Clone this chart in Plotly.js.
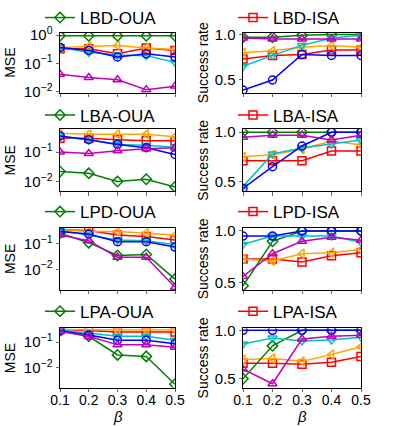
<!DOCTYPE html>
<html>
<head>
<meta charset="utf-8">
<script src="https://cdn.plot.ly/plotly-3.0.1.min.js"></script>
<style>html,body{margin:0;padding:0;background:#fff}#chart{width:399px;height:426px}</style>
</head>
<body>
<div id="chart"></div>
<script>
// beta values on the x axis
const beta = [0.1, 0.2, 0.3, 0.4, 0.5];
const rowNames = ['LBD', 'LBA', 'LPD', 'LPA'];

// every panel: [green, blue, magenta, orange, cyan, red]
const mseLBD = [
  [0.95, 0.95, 0.95, 0.95, 0.95],
  [0.37, 0.29, 0.17, 0.22, 0.17],
  [0.042, 0.032, 0.027, 0.012, 0.016],
  [0.37, 0.41, 0.43, 0.35, 0.31],
  [0.37, 0.25, 0.20, 0.19, 0.11],
  [0.33, 0.33, 0.22, 0.35, 0.29],
];
const successLBD = [
  [0.97, 0.97, 0.99, 1.0, 1.0],
  [0.39, 0.50, 0.78, 0.77, 0.77],
  [0.96, 0.95, 0.95, 0.95, 0.95],
  [0.80, 0.82, 0.86, 0.88, 0.86],
  [0.65, 0.77, 0.88, 0.96, 0.99],
  [0.73, 0.77, 0.78, 0.83, 0.83],
];
const mseLBA = [
  [0.022, 0.019, 0.010, 0.012, 0.0066],
  [0.35, 0.26, 0.18, 0.14, 0.083],
  [0.10, 0.089, 0.11, 0.13, 0.14],
  [0.43, 0.40, 0.40, 0.40, 0.33],
  [0.33, 0.26, 0.18, 0.17, 0.145],
  [0.29, 0.29, 0.26, 0.24, 0.24],
];
const successLBA = [
  [1.0, 1.0, 1.0, 1.0, 1.0],
  [0.43, 0.65, 0.86, 1.0, 1.0],
  [0.95, 0.97, 0.97, 0.92, 0.97],
  [0.75, 0.77, 0.83, 0.91, 0.87],
  [0.45, 0.78, 0.84, 0.88, 0.92],
  [0.71, 0.71, 0.71, 0.81, 0.81],
];
const mseLPD = [
  [0.26, 0.11, 0.035, 0.038, 0.0042],
  [0.30, 0.24, 0.12, 0.12, 0.074],
  [0.22, 0.13, 0.030, 0.030, 0.002],
  [0.35, 0.30, 0.30, 0.26, 0.22],
  [0.33, 0.22, 0.14, 0.13, 0.092],
  [0.35, 0.33, 0.22, 0.19, 0.14],
];
const successLPD = [
  [0.47, 0.90, 1.0, 1.0, 1.0],
  [0.95, 0.95, 1.0, 1.0, 1.0],
  [0.56, 0.78, 0.90, 0.94, 0.91],
  [0.73, 0.71, 0.78, 0.79, 0.82],
  [0.87, 0.95, 0.95, 0.95, 0.89],
  [0.73, 0.73, 0.70, 0.76, 0.79],
];
const mseLPA = [
  [0.28, 0.17, 0.032, 0.028, 0.0023],
  [0.28, 0.19, 0.12, 0.12, 0.087],
  [0.26, 0.17, 0.079, 0.079, 0.064],
  [0.32, 0.30, 0.30, 0.30, 0.30],
  [0.30, 0.22, 0.17, 0.17, 0.12],
  [0.32, 0.28, 0.25, 0.25, 0.25],
];
const successLPA = [
  [0.50, 0.84, 1.0, 1.0, 1.0],
  [1.0, 1.0, 1.0, 1.0, 1.0],
  [0.60, 0.45, 0.91, 0.94, 0.95],
  [0.70, 0.71, 0.68, 0.75, 0.83],
  [0.86, 0.92, 0.89, 0.90, 0.93],
  [0.66, 0.66, 0.65, 0.67, 0.73],
];

const mse = [mseLBD, mseLBA, mseLPD, mseLPA];
const success = [successLBD, successLBA, successLPD, successLPA];

// series style
const kolory = ['#008000', '#0000ff', '#bf00bf', '#ffa500', '#00bfbf', '#ff0000'];
const symbole = ['diamond-open', 'circle-open', 'triangle-up-open', 'triangle-left-open', 'triangle-down-open', 'square-open'];
const kolejnosc = [5, 3, 0, 4, 1, 2]; // draw order

// geometry (pixels in a 399x426 figure)
const W = 399, H = 426;
const kolX = [[60, 175], [243, 361]];
const wierszY = [[27, 88], [125, 188], [225, 288], [327, 387]];
const legendaY = [12, 111, 209, 310];
const legendaX = [40, 233];
const zakresMse = [[-2.03, 0.09], [-2.33, -0.23], [-2.8, -0.38], [-2.77, -0.46]];
const zakresSr = [[0.36, 1.02], [0.40, 1.03], [0.43, 1.03], [0.41, 1.02]];

const czcionka = '"Liberation Sans", Arial, sans-serif';
const traces = [];
const layout = {
  width: W, height: H,
  margin: { l: 0, r: 0, t: 0, b: 0 },
  paper_bgcolor: '#fff', plot_bgcolor: '#fff',
  font: { family: czcionka, size: 15, color: '#000' },
  showlegend: true,
  annotations: [],
};

rowNames.forEach((rn, r) => {
  [0, 1].forEach(c => {
    const idx = r * 2 + c + 1;
    const os = idx === 1 ? '' : String(idx);
    const dane = c === 0 ? mse[r] : success[r];
    const legKey = idx === 1 ? 'legend' : 'legend' + idx;
    const wyrozniona = c === 0 ? 0 : 5;
    kolejnosc.forEach(s => {
      traces.push({
        x: beta, y: dane[s],
        xaxis: 'x' + os, yaxis: 'y' + os,
        mode: 'lines+markers',
        name: s === wyrozniona ? rn + (c === 0 ? '-OUA' : '-ISA') : 'seria ' + s,
        showlegend: s === wyrozniona,
        legend: legKey,
        line: { color: kolory[s], width: 1.5 },
        marker: { symbol: symbole[s], size: 8, color: kolory[s], line: { width: 1.5, color: kolory[s] } },
      });
    });

    layout[legKey] = {
      x: legendaX[c] / W, y: 1 - legendaY[r] / H,
      xanchor: 'left', yanchor: 'middle',
      bgcolor: 'rgba(0,0,0,0)', borderwidth: 0,
      font: { size: 17, family: czcionka },
      orientation: 'h',
    };

    const bottom = r === 3;
    layout['xaxis' + os] = {
      domain: [kolX[c][0] / W, kolX[c][1] / W],
      anchor: 'y' + os,
      range: [0.1, 0.5],
      tickvals: beta,
      ticktext: beta.map(v => v.toFixed(1)),
      showticklabels: bottom,
      ticklabelstandoff: -4,
      ticks: 'outside', ticklen: 3.5, tickwidth: 0.8,
      showline: true, mirror: true, linecolor: '#000', linewidth: 1,
      showgrid: false, zeroline: false,
      tickfont: { size: 14, family: czcionka },
      title: { text: '' },
    };
    // β pod dolnym rzędem jako adnotacja — tytuł osi nie mieści się w zerowym marginesie
    if (bottom) {
      layout.annotations.push({
        text: '<i>β</i>', xref: 'x' + os + ' domain', yref: 'paper',
        x: 0.5, y: 0, xanchor: 'center', yanchor: 'bottom', yshift: -1,
        showarrow: false, font: { size: 15 },
      });
    }
    const yax = {
      domain: [1 - wierszY[r][1] / H, 1 - wierszY[r][0] / H],
      anchor: 'x' + os,
      ticks: 'outside', ticklen: 3.5, tickwidth: 0.8,
      showline: true, mirror: true, linecolor: '#000', linewidth: 1,
      showgrid: false, zeroline: false,
      tickfont: { size: 15, family: czcionka },
    };
    if (c === 0) {
      Object.assign(yax, {
        type: 'log',
        range: zakresMse[r],
        tickvals: [0.01, 0.1, 1],
        ticktext: ['10<sup>−2</sup>', '10<sup>−1</sup>', '10<sup>0</sup>'],
        title: { text: 'MSE', font: { size: 14 }, standoff: 4 },
      });
    } else {
      Object.assign(yax, {
        range: zakresSr[r],
        tickvals: [0.5, 1.0],
        ticktext: ['0.5', '1.0'],
        title: { text: 'Success rate', font: { size: 14 }, standoff: 2 },
      });
    }
    layout['yaxis' + os] = yax;
  });
});

Plotly.newPlot('chart', traces, layout, { displayModeBar: false, staticPlot: true });
</script>
</body>
</html>
